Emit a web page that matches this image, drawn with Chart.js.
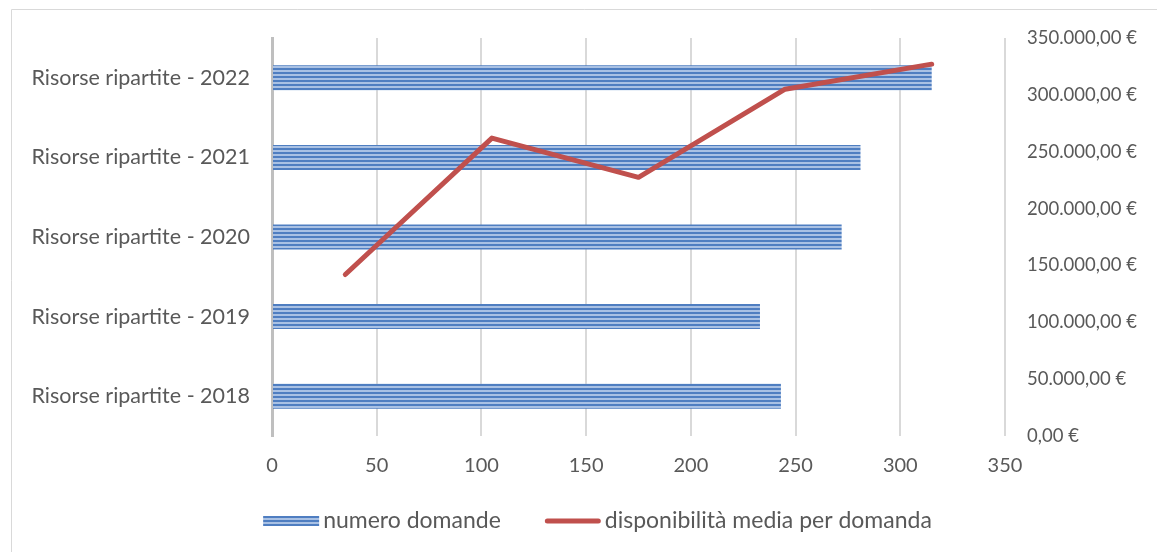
<!DOCTYPE html>
<html><head><meta charset="utf-8">
<script src="https://cdn.jsdelivr.net/npm/chart.js@4"></script>
<style>html,body{margin:0;padding:0;background:#fff}#wrap{width:1157px;height:552px;position:relative}</style>
</head><body><div id="wrap"><canvas id="c" width="1157" height="552"></canvas></div>
<script>
const categories = ['Risorse ripartite - 2018','Risorse ripartite - 2019','Risorse ripartite - 2020','Risorse ripartite - 2021','Risorse ripartite - 2022'];
const lineCategories = ['2018','2019','2020','2021','2022'];
const numeroDomande = [243, 233, 272, 281, 315];
const disponibilitaMedia = [142000, 262000, 227500, 305000, 327000];
const seriesNames = ['numero domande', 'disponibilità media per domanda'];

function fmtEuro(v){
  const s = Math.round(v).toString().replace(/\B(?=(\d{3})+(?!\d))/g, '.');
  return s + ',00 €';
}

const FONT = 'Lato';
const TXT = '#595959';
const LINE_COLOR = '#C0504D';

// striped pattern
const pc = document.createElement('canvas');
pc.width = 4; pc.height = 4;
const px = pc.getContext('2d');
px.fillStyle = '#A9C1E4'; px.fillRect(0,0,4,4);
px.fillStyle = '#4F7EC1'; px.fillRect(0,0,4,2);
const ctx0 = document.getElementById('c').getContext('2d');
const stripe = ctx0.createPattern(pc, 'repeat');

const frame = {
  id: 'frame',
  beforeDraw(chart){
    const c = chart.ctx;
    c.save();
    c.strokeStyle = '#D9D9D9'; c.lineWidth = 1;
    c.beginPath();
    c.moveTo(11.5, chart.height); c.lineTo(11.5, 9.5); c.lineTo(chart.width, 9.5);
    c.stroke();
    c.restore();
  }
};

// custom legend (box, 4px gap, text; items separated by gap)
const customLegend = {
  id: 'customLegend',
  afterDraw(chart){
    const c = chart.ctx;
    const fontSize = 23;
    c.save();
    c.font = fontSize + 'px ' + FONT;
    c.textBaseline = 'middle';
    c.textAlign = 'left';
    const boxW = 56, gapText = 4, gapItem = 44;
    const ds = chart.data.datasets;
    const widths = ds.map(d => boxW + gapText + c.measureText(d.label).width);
    const total = widths.reduce((a, b) => a + b, 0) + gapItem * (ds.length - 1);
    const center = (38 + chart.width) / 2;
    const y = 521;
    let x = center - total / 2;
    ds.forEach((d, i) => {
      if (d.type === 'bar') {
        c.fillStyle = d.backgroundColor;
        c.fillRect(x, y - 5, boxW, 10);
      } else {
        c.strokeStyle = d.borderColor; c.lineWidth = 5; c.lineCap = 'round';
        c.beginPath(); c.moveTo(x + 2.5, y); c.lineTo(x + boxW - 2.5, y); c.stroke();
      }
      c.fillStyle = TXT;
      c.fillText(d.label, x + boxW + gapText, y);
      x += widths[i] + gapItem;
    });
    c.restore();
  }
};

new Chart(ctx0, {
  data: {
    labels: categories,
    datasets: [
      {
        type: 'bar', label: seriesNames[0], data: numeroDomande,
        indexAxis: 'y', xAxisID: 'x', yAxisID: 'y',
        backgroundColor: stripe, borderWidth: 0, grouped: false,
        barPercentage: 0.314, categoryPercentage: 1, order: 2
      },
      {
        type: 'line', label: seriesNames[1], data: disponibilitaMedia,
        xAxisID: 'x2', yAxisID: 'y2',
        borderColor: LINE_COLOR, backgroundColor: LINE_COLOR, borderWidth: 5,
        borderCapStyle: 'round', borderJoinStyle: 'round', tension: 0,
        pointRadius: 0, pointHoverRadius: 0, order: 1, fill: false
      }
    ]
  },
  options: {
    responsive: false, animation: false,
    layout: { padding: { top: 38, left: 0, right: 0, bottom: 74 } },
    plugins: {
      title: { display: false },
      tooltip: { enabled: false },
      legend: { display: false }
    },
    scales: {
      x: {
        type: 'linear', position: 'bottom', min: 0, max: 350,
        ticks: { stepSize: 50, color: TXT, font: { family: FONT, size: 20 }, padding: 18 },
        grid: { color: '#D9D9D9', lineWidth: 2, drawTicks: false },
        border: { display: false },
        afterFit(s){ s.height = 42; }
      },
      y: {
        type: 'category', labels: categories, reverse: true, offset: true,
        ticks: { color: TXT, font: { family: FONT, size: 21.5 }, padding: 22 },
        grid: { display: false, drawTicks: false },
        border: { display: true, color: '#BFBFBF', width: 3 },
        afterFit(s){ s.width = 272; }
      },
      x2: {
        type: 'category', labels: lineCategories, offset: true, position: 'top', display: false,
        grid: { display: false }
      },
      y2: {
        type: 'linear', position: 'right', min: 0, max: 350000,
        ticks: { stepSize: 50000, color: TXT, font: { family: FONT, size: 18.5 }, padding: 22, callback: v => fmtEuro(v) },
        grid: { display: false, drawTicks: false },
        border: { display: false },
        afterFit(s){ s.width = 152; }
      }
    }
  },
  plugins: [frame, customLegend]
});
</script>
</body></html>
